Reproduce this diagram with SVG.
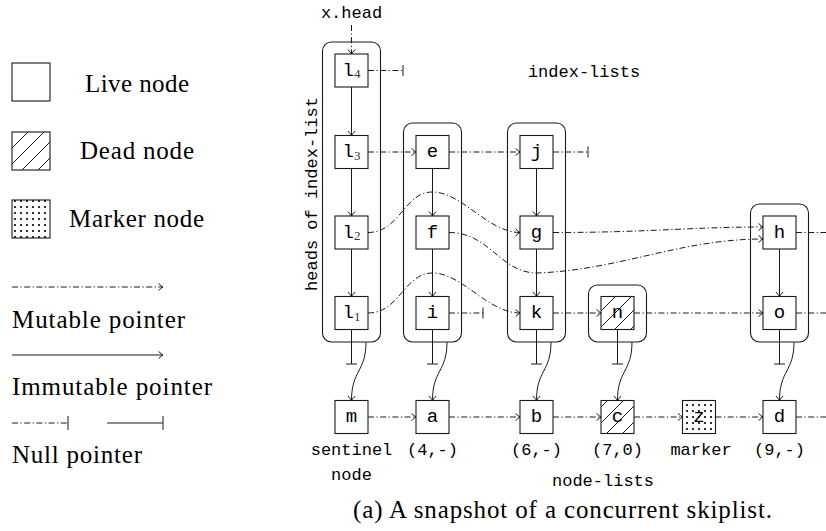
<svg xmlns="http://www.w3.org/2000/svg" width="826" height="531" viewBox="0 0 826 531">
<style>
.box{fill:#fff;stroke:#1a1a1a;stroke-width:1.1}
.cont{fill:none;stroke:#1a1a1a;stroke-width:1.1}
.mut{fill:none;stroke:#1a1a1a;stroke-width:1;stroke-dasharray:6 2.5 1.2 2.5}
.imm{fill:none;stroke:#1a1a1a;stroke-width:1}
.tt{font-family:"Liberation Mono","DejaVu Sans Mono",monospace;font-size:17px;fill:#000}
.mid{text-anchor:middle}
.nl{font-family:"Liberation Mono","DejaVu Sans Mono",monospace;font-size:19px;fill:#000;text-anchor:middle}
.rm{font-family:"Liberation Serif","Times New Roman",serif;font-size:25px;fill:#000}
.sub{font-family:"Liberation Serif","Times New Roman",serif;font-size:13px;fill:#333}
</style>
<defs>
<marker id="arr" markerUnits="userSpaceOnUse" viewBox="-6 -5 7 10" refX="0" refY="0" markerWidth="7" markerHeight="10" orient="auto" overflow="visible">
<path d="M-4.5,-3.6 Q-1.6,-0.9 0,0 Q-1.6,0.9 -4.5,3.6" fill="none" stroke="#1a1a1a" stroke-width="1"/>
</marker>
<marker id="bar" markerUnits="userSpaceOnUse" viewBox="-2 -7 4 14" refX="0" refY="0" markerWidth="4" markerHeight="14" orient="auto" overflow="visible">
<path d="M0,-5.5 V5.5" fill="none" stroke="#1a1a1a" stroke-width="1"/>
</marker>
<pattern id="hatch" width="16" height="16" patternUnits="userSpaceOnUse">
<rect width="16" height="16" fill="#fff"/>
<path d="M-2,18 L18,-2 M-2,2 L2,-2 M14,18 L18,14" stroke="#1a1a1a" stroke-width="1"/>
</pattern>
<pattern id="dots" width="6" height="6" patternUnits="userSpaceOnUse">
<rect width="6" height="6" fill="#fff"/>
<circle cx="3" cy="3" r="1.1" fill="#000"/>
</pattern>
</defs>
<rect width="826" height="531" fill="#fff"/>

<!-- Legend -->
<g id="legend-live">
<rect class="box" x="12" y="63" width="38" height="38"/>
<text class="rm" x="85" y="92" textLength="104">Live node</text>
</g>
<g id="legend-dead">
<rect x="12" y="132" width="38" height="38" fill="url(#hatch)" stroke="#1a1a1a" stroke-width="1.1"/>
<text class="rm" x="80" y="159" textLength="114">Dead node</text>
</g>
<g id="legend-marker">
<rect x="12" y="200" width="38" height="38" fill="url(#dots)" stroke="#1a1a1a" stroke-width="1.1"/>
<text class="rm" x="69" y="227" textLength="135">Marker node</text>
</g>
<g id="legend-mutable">
<line class="mut" x1="12" y1="287" x2="163" y2="287" marker-end="url(#arr)"/>
<text class="rm" x="12" y="328" textLength="173">Mutable pointer</text>
</g>
<g id="legend-immutable">
<line class="imm" x1="12" y1="355" x2="163" y2="355" marker-end="url(#arr)"/>
<text class="rm" x="12" y="395" textLength="200">Immutable pointer</text>
</g>
<g id="legend-null">
<line class="mut" x1="12" y1="423" x2="68" y2="423"/>
<line class="imm" x1="68" y1="416" x2="68" y2="430"/>
<line class="imm" x1="107" y1="423" x2="163" y2="423"/>
<line class="imm" x1="163" y1="416" x2="163" y2="430"/>
<text class="rm" x="12" y="463" textLength="130">Null pointer</text>
</g>

<!-- Index-list containers -->
<g id="list-l"><rect class="cont" x="322.5" y="42" width="58" height="300" rx="9"/></g>
<g id="list-e"><rect class="cont" x="403.5" y="123" width="58" height="219" rx="9"/></g>
<g id="list-j"><rect class="cont" x="507.5" y="123" width="58" height="219" rx="9"/></g>
<g id="list-n"><rect class="cont" x="588.5" y="285" width="58" height="57" rx="9"/></g>
<g id="list-h"><rect class="cont" x="750.5" y="204" width="58" height="138" rx="9"/></g>

<!-- Connectors -->
<g id="connectors">
<line class="mut" x1="351.5" y1="25" x2="351.5" y2="54" marker-end="url(#arr)"/>
<line class="mut" x1="368" y1="152" x2="416" y2="152" marker-end="url(#arr)"/>
<line class="mut" x1="449" y1="152" x2="520" y2="152" marker-end="url(#arr)"/>
<line class="mut" x1="553" y1="313" x2="601" y2="313" marker-end="url(#arr)"/>
<line class="mut" x1="634" y1="313" x2="763" y2="313" marker-end="url(#arr)"/>
<path class="mut" d="M368,232.5 C400,232.5 404,192 432.5,192 C462,192 488,232.5 520,232.5" marker-end="url(#arr)"/>
<path class="mut" d="M368,313 C400,313 404,273 432.5,273 C462,273 488,313 520,313" marker-end="url(#arr)"/>
<path class="mut" d="M449,232.5 C490,232.5 500,273 537,273 C620,270 680,239 763,239" marker-end="url(#arr)"/>
<path class="mut" d="M553,232.5 C650,232.5 690,227 763,227" marker-end="url(#arr)"/>
<line class="mut" x1="368" y1="70.5" x2="403" y2="70.5" marker-end="url(#bar)"/>
<line class="mut" x1="553" y1="152" x2="588" y2="152" marker-end="url(#bar)"/>
<line class="mut" x1="449" y1="313" x2="483" y2="313" marker-end="url(#bar)"/>
<line class="mut" x1="796" y1="232.5" x2="830" y2="232.5"/>
<line class="mut" x1="796" y1="313" x2="830" y2="313"/>
<line class="mut" x1="796" y1="417" x2="830" y2="417"/>
<line class="mut" x1="368" y1="417" x2="416" y2="417" marker-end="url(#arr)"/>
<line class="mut" x1="449" y1="417" x2="520" y2="417" marker-end="url(#arr)"/>
<line class="mut" x1="553" y1="417" x2="601" y2="417" marker-end="url(#arr)"/>
<line class="mut" x1="634" y1="417" x2="682.5" y2="417" marker-end="url(#arr)"/>
<line class="mut" x1="715.5" y1="417" x2="763" y2="417" marker-end="url(#arr)"/>
<line class="imm" x1="351.5" y1="87" x2="351.5" y2="135.5" marker-end="url(#arr)"/>
<line class="imm" x1="351.5" y1="168.5" x2="351.5" y2="216" marker-end="url(#arr)"/>
<line class="imm" x1="351.5" y1="249" x2="351.5" y2="296.5" marker-end="url(#arr)"/>
<line class="imm" x1="432.5" y1="168.5" x2="432.5" y2="216" marker-end="url(#arr)"/>
<line class="imm" x1="432.5" y1="249" x2="432.5" y2="296.5" marker-end="url(#arr)"/>
<line class="imm" x1="536.5" y1="168.5" x2="536.5" y2="216" marker-end="url(#arr)"/>
<line class="imm" x1="536.5" y1="249" x2="536.5" y2="296.5" marker-end="url(#arr)"/>
<line class="imm" x1="779.5" y1="249" x2="779.5" y2="296.5" marker-end="url(#arr)"/>
<line class="imm" x1="351.5" y1="329.5" x2="351.5" y2="364" marker-end="url(#bar)"/>
<line class="imm" x1="432.5" y1="329.5" x2="432.5" y2="364" marker-end="url(#bar)"/>
<line class="imm" x1="536.5" y1="329.5" x2="536.5" y2="364" marker-end="url(#bar)"/>
<line class="imm" x1="617.5" y1="329.5" x2="617.5" y2="364" marker-end="url(#bar)"/>
<line class="imm" x1="779.5" y1="329.5" x2="779.5" y2="364" marker-end="url(#bar)"/>
<path class="imm" d="M366,342 C366,372 351.5,370 351.5,400.5" marker-end="url(#arr)"/>
<path class="imm" d="M447,342 C447,372 432.5,370 432.5,400.5" marker-end="url(#arr)"/>
<path class="imm" d="M551,342 C551,372 536.5,370 536.5,400.5" marker-end="url(#arr)"/>
<path class="imm" d="M632,342 C632,372 617.5,370 617.5,400.5" marker-end="url(#arr)"/>
<path class="imm" d="M794,342 C794,372 779.5,370 779.5,400.5" marker-end="url(#arr)"/>
</g>

<!-- Nodes -->
<g id="node-l4"><rect class="box" x="335" y="54" width="33" height="33"/><text class="nl" x="351.5" y="75.5">l<tspan class="sub" dy="2.5">4</tspan></text></g>
<g id="node-l3"><rect class="box" x="335" y="135.5" width="33" height="33"/><text class="nl" x="351.5" y="157">l<tspan class="sub" dy="2.5">3</tspan></text></g>
<g id="node-l2"><rect class="box" x="335" y="216" width="33" height="33"/><text class="nl" x="351.5" y="237.5">l<tspan class="sub" dy="2.5">2</tspan></text></g>
<g id="node-l1"><rect class="box" x="335" y="296.5" width="33" height="33"/><text class="nl" x="351.5" y="318">l<tspan class="sub" dy="2.5">1</tspan></text></g>
<g id="node-e"><rect class="box" x="416" y="135.5" width="33" height="33"/><text class="nl" x="432.5" y="157">e</text></g>
<g id="node-f"><rect class="box" x="416" y="216" width="33" height="33"/><text class="nl" x="432.5" y="237.5">f</text></g>
<g id="node-i"><rect class="box" x="416" y="296.5" width="33" height="33"/><text class="nl" x="432.5" y="318">i</text></g>
<g id="node-j"><rect class="box" x="520" y="135.5" width="33" height="33"/><text class="nl" x="536.5" y="157">j</text></g>
<g id="node-g"><rect class="box" x="520" y="216" width="33" height="33"/><text class="nl" x="536.5" y="237.5">g</text></g>
<g id="node-k"><rect class="box" x="520" y="296.5" width="33" height="33"/><text class="nl" x="536.5" y="318">k</text></g>
<g id="node-n"><rect x="601" y="296.5" width="33" height="33" fill="url(#hatch)" stroke="#1a1a1a" stroke-width="1.1"/><text class="nl" x="617.5" y="318">n</text></g>
<g id="node-h"><rect class="box" x="763" y="216" width="33" height="33"/><text class="nl" x="779.5" y="237.5">h</text></g>
<g id="node-o"><rect class="box" x="763" y="296.5" width="33" height="33"/><text class="nl" x="779.5" y="318">o</text></g>
<g id="node-m"><rect class="box" x="335" y="400.5" width="33" height="33"/><text class="nl" x="351.5" y="422">m</text></g>
<g id="node-a"><rect class="box" x="416" y="400.5" width="33" height="33"/><text class="nl" x="432.5" y="422">a</text></g>
<g id="node-b"><rect class="box" x="520" y="400.5" width="33" height="33"/><text class="nl" x="536.5" y="422">b</text></g>
<g id="node-c"><rect x="601" y="400.5" width="33" height="33" fill="url(#hatch)" stroke="#1a1a1a" stroke-width="1.1"/><text class="nl" x="617.5" y="422">c</text></g>
<g id="node-z"><rect x="682.5" y="400.5" width="33" height="33" fill="url(#dots)" stroke="#1a1a1a" stroke-width="1.1"/><text class="nl" x="699" y="422">z</text></g>
<g id="node-d"><rect class="box" x="763" y="400.5" width="33" height="33"/><text class="nl" x="779.5" y="422">d</text></g>

<!-- Labels -->
<g id="labels">
<text class="tt mid" x="351.5" y="18">x.head</text>
<text class="tt mid" x="584" y="77">index-lists</text>
<text class="tt mid" transform="translate(317,194) rotate(-90)">heads of index-list</text>
<text class="tt mid" x="351.5" y="455">sentinel</text>
<text class="tt mid" x="351.5" y="480">node</text>
<text class="tt mid" x="432.5" y="455">(4,-)</text>
<text class="tt mid" x="536.5" y="455">(6,-)</text>
<text class="tt mid" x="617.5" y="455">(7,0)</text>
<text class="tt mid" x="701" y="455">marker</text>
<text class="tt mid" x="779.5" y="455">(9,-)</text>
<text class="tt mid" x="603" y="486">node-lists</text>
<text class="rm" x="353" y="518" font-size="23" textLength="419">(a) A snapshot of a concurrent skiplist.</text>
</g>
</svg>
